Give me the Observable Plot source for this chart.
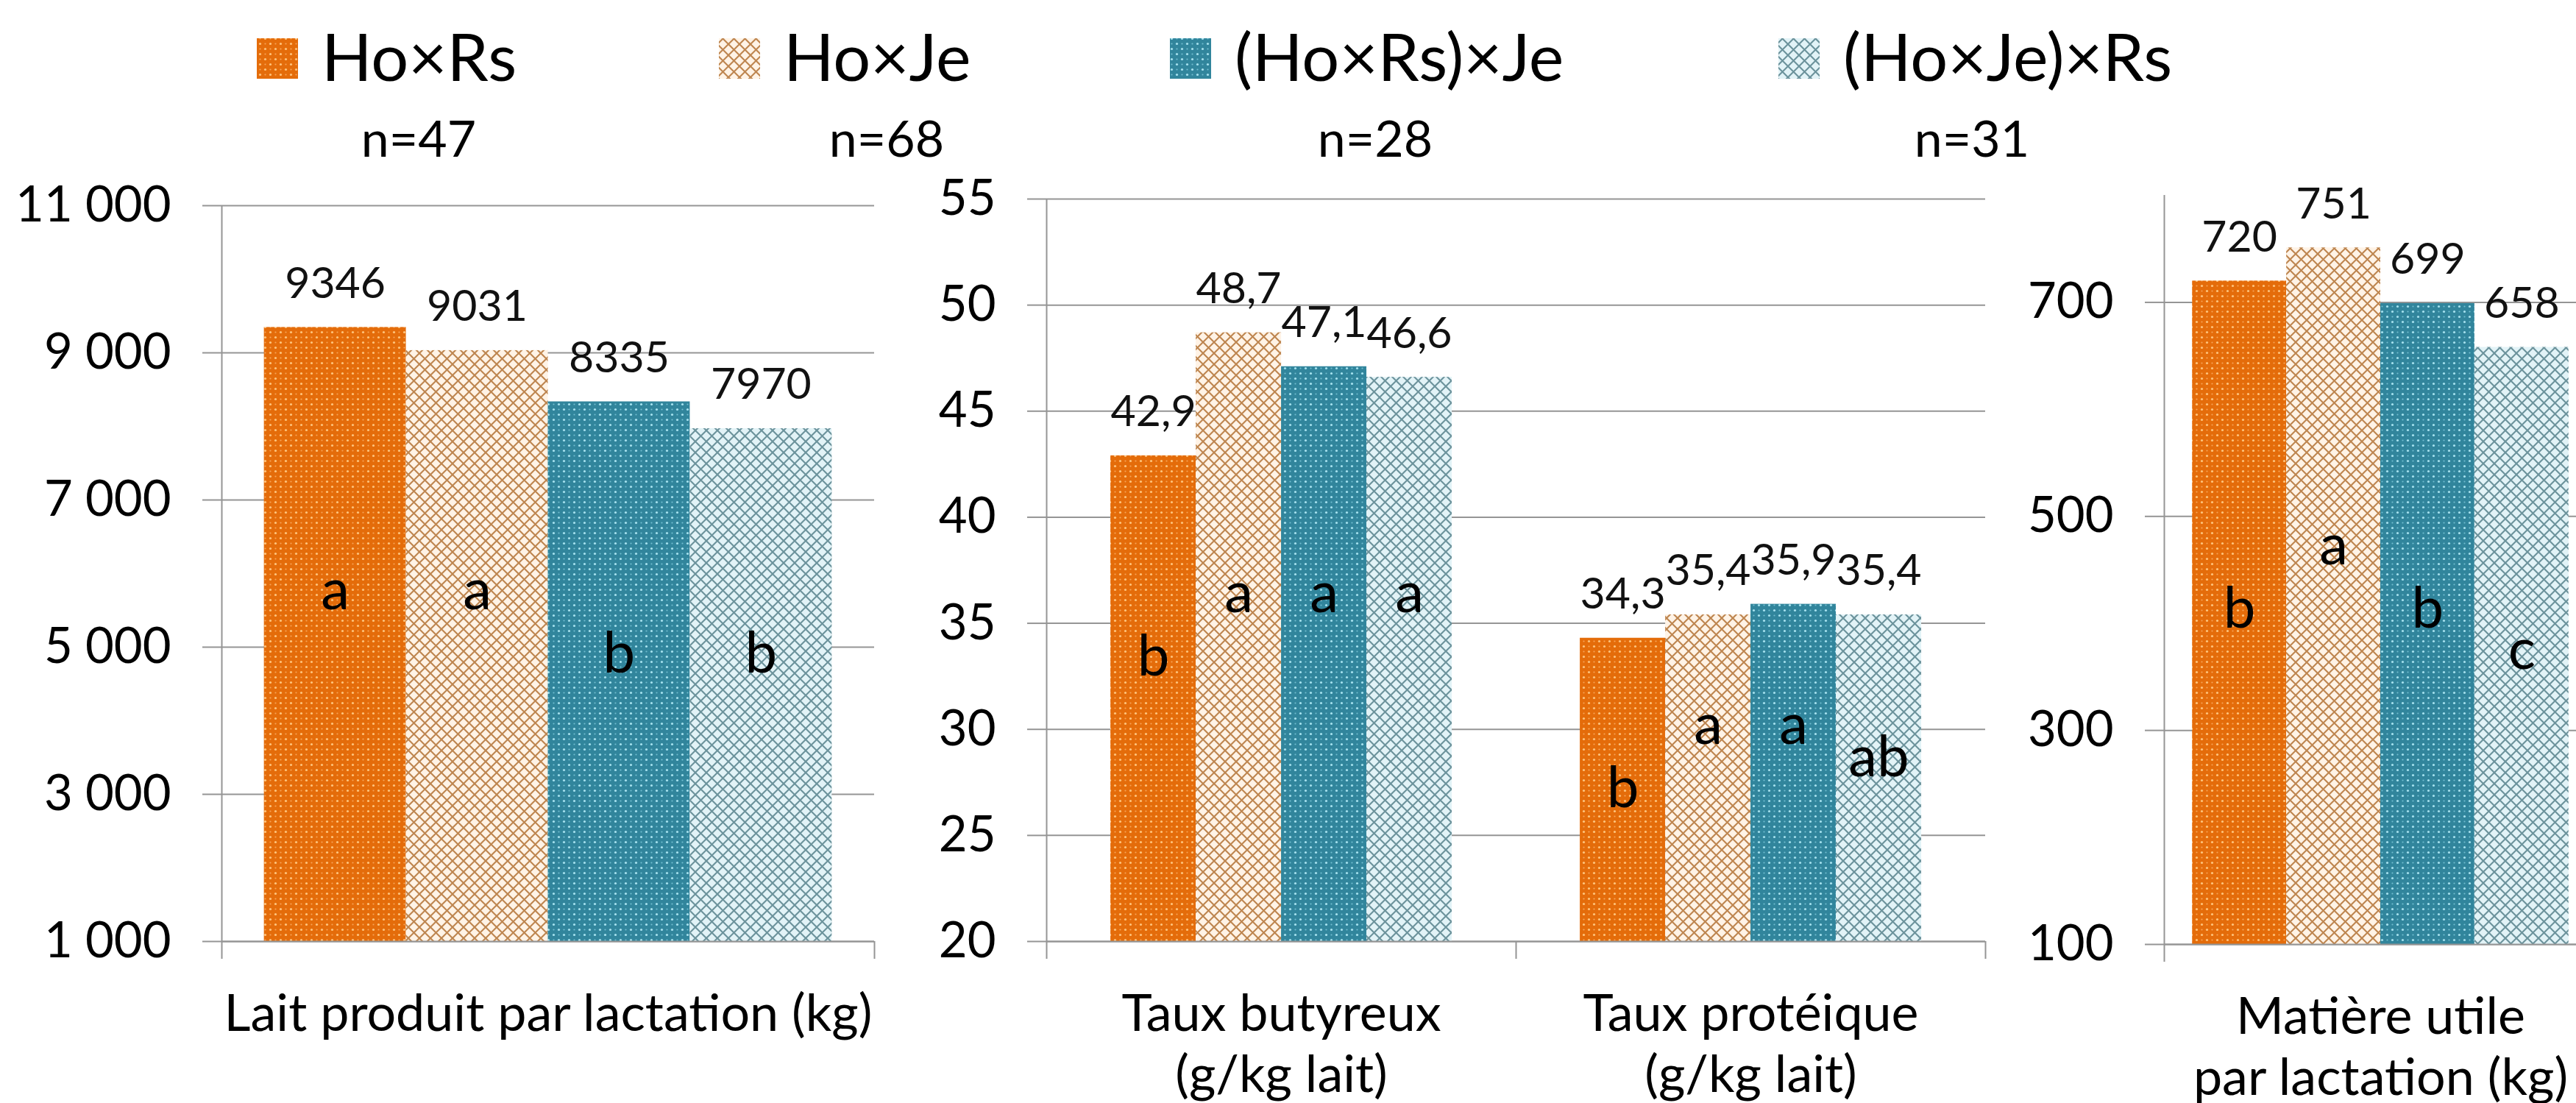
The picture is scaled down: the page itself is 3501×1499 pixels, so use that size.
<!DOCTYPE html>
<html><head><meta charset="utf-8">
<script src="https://cdn.jsdelivr.net/npm/d3@7"></script>
<script src="https://cdn.jsdelivr.net/npm/@observablehq/plot@0.6"></script>
<style>
html,body{margin:0;padding:0;background:#fff;overflow:hidden;width:3501px;height:1499px;}
#root{position:relative;width:3600px;height:1499px;font-family:Lato,sans-serif;}
#root > svg{position:absolute;left:0;top:0;max-width:none;}
</style></head><body><div id="root"></div>
<script>
// ---------- data ----------
const series = ["Ho×Rs", "Ho×Je", "(Ho×Rs)×Je", "(Ho×Je)×Rs"];
const nCounts = [47, 68, 28, 31];

const laitCats = ["Lait produit par lactation (kg)"];
const laitValues = [[9346, 9031, 8335, 7970]];
const laitLetters = [["a", "a", "b", "b"]];
const laitTicks = [1000, 3000, 5000, 7000, 9000, 11000];

const tauxCats = ["Taux butyreux\n(g/kg lait)", "Taux protéique\n(g/kg lait)"];
const tauxValues = [[42.9, 48.7, 47.1, 46.6], [34.3, 35.4, 35.9, 35.4]];
const tauxLetters = [["b", "a", "a", "a"], ["b", "a", "a", "ab"]];
const tauxTicks = [20, 25, 30, 35, 40, 45, 50, 55];

const muCats = ["Matière utile\npar lactation (kg)"];
const muValues = [[720, 751, 699, 658]];
const muLetters = [["b", "a", "b", "c"]];
const muTicks = [100, 300, 500, 700];

// ---------- patterns ----------
const NS = "http://www.w3.org/2000/svg";
const root = document.getElementById("root");
const defsSvg = document.createElementNS(NS, "svg");
defsSvg.setAttribute("width", 0); defsSvg.setAttribute("height", 0);
defsSvg.style.position = "absolute";
defsSvg.innerHTML = `
<defs>
 <pattern id="pDotO" patternUnits="userSpaceOnUse" width="14" height="14">
  <rect width="14" height="14" fill="#E46C0A"/>
  <circle cx="3.5" cy="3.5" r="1.6" fill="#FFC47C"/>
  <circle cx="10.5" cy="10.5" r="1.6" fill="#FFC47C"/>
  <circle cx="10.5" cy="3.5" r="1.1" fill="#F7A255"/>
  <circle cx="3.5" cy="10.5" r="1.1" fill="#F7A255"/>
 </pattern>
 <pattern id="pLatO" patternUnits="userSpaceOnUse" width="15" height="15">
  <rect width="15" height="15" fill="#FFF3E6"/>
  <path d="M0,0L15,15M-2,13L2,17M13,-2L17,2M0,15L15,0M-2,2L2,-2M13,17L17,13" stroke="#BE8650" stroke-width="2.1" fill="none"/>
 </pattern>
 <pattern id="pDotT" patternUnits="userSpaceOnUse" width="14" height="14">
  <rect width="14" height="14" fill="#31859C"/>
  <circle cx="3.5" cy="3.5" r="1.6" fill="#A6E2EF"/>
  <circle cx="10.5" cy="10.5" r="1.6" fill="#A6E2EF"/>
  <circle cx="10.5" cy="3.5" r="1.1" fill="#6FBCCF"/>
  <circle cx="3.5" cy="10.5" r="1.1" fill="#6FBCCF"/>
 </pattern>
 <pattern id="pLatT" patternUnits="userSpaceOnUse" width="15" height="15">
  <rect width="15" height="15" fill="#E2F3F7"/>
  <path d="M0,0L15,15M-2,13L2,17M13,-2L17,2M0,15L15,0M-2,2L2,-2M13,17L17,13" stroke="#6C939C" stroke-width="2.1" fill="none"/>
 </pattern>
</defs>`;
root.appendChild(defsSvg);
const fills = ["url(#pDotO)", "url(#pLatO)", "url(#pDotT)", "url(#pLatT)"];

// ---------- layout constants ----------
const W = 3560, H = 1499;
const GRID = "#959595";
const letterDy = {a: -47, ab: -3, b: 39, c: 95};

function panel({cats, values, letters, ticks, domain, tickFmt, valFmt, left, right, top, bottom}) {
  const n = cats.length;
  const pad = n === 1 ? 0.065 : 0.1365;
  const bw = n === 1 ? 0.2175 : 0.1818;
  const rows = [];
  values.forEach((vals, ci) => vals.forEach((v, si) => rows.push({ci, si, series: series[si], value: v, letter: letters[ci][si]})));
  const ymin = domain[0];
  const anchor = values.map(vals => ymin + 0.56 * (d3.mean(vals) - ymin));
  const cx = d => d.ci + pad + (d.si + 0.5) * bw;
  const letterMarks = Object.keys(letterDy).map(L =>
    Plot.text(rows.filter(d => d.letter === L), {
      x: cx, y: d => anchor[d.ci], text: "letter", dy: letterDy[L],
      fontSize: 78, fill: "#000"
    }));
  return Plot.plot({
    width: W, height: H,
    marginLeft: left, marginRight: W - right, marginTop: top, marginBottom: H - bottom,
    style: {fontFamily: "Lato, sans-serif", fontSize: "60px", color: "#000", background: "transparent", overflow: "visible"},
    x: {type: "linear", domain: [0, n]},
    y: {domain},
    color: {domain: series, range: fills},
    marks: [
      Plot.gridY({ticks, stroke: GRID, strokeOpacity: 1, strokeWidth: 2}),
      Plot.rectY(rows, {
        x1: d => d.ci + pad + d.si * bw,
        x2: d => d.ci + pad + (d.si + 1) * bw,
        y1: () => ymin, y2: "value", fill: "series"
      }),
      Plot.ruleY([ymin], {stroke: GRID, strokeWidth: 2}),
      Plot.ruleX([0], {stroke: GRID, strokeWidth: 2}),
      Plot.axisY({ticks, tickSize: 26, tickPadding: 43, tickFormat: tickFmt, fontSize: 67, stroke: GRID, strokeWidth: 2, strokeOpacity: 1, label: null}),
      Plot.axisX({ticks: d3.range(n + 1), tickSize: 24, tickFormat: () => "", stroke: GRID, strokeWidth: 2, strokeOpacity: 1, label: null}),
      Plot.text(cats, {x: (d, i) => i + 0.5, frameAnchor: "bottom", dy: 63, lineAnchor: "top", lineHeight: 1.18, fontSize: 70, text: d => d, fill: "#000"}),
      Plot.text(rows, {x: cx, y: "value", text: d => valFmt(d.value), dy: -59, fontSize: 59, fill: "#111"}),
      ...letterMarks
    ]
  });
}

const spaceFmt = d => String(d).replace(/\B(?=(\d{3})+(?!\d))/g, " ");
const commaFmt = d => d.toFixed(1).replace(".", ",");

root.appendChild(panel({cats: laitCats, values: laitValues, letters: laitLetters, ticks: laitTicks,
  domain: [1000, 11000], tickFmt: spaceFmt, valFmt: d => String(d), left: 301, right: 1188, top: 279, bottom: 1279}));
root.appendChild(panel({cats: tauxCats, values: tauxValues, letters: tauxLetters, ticks: tauxTicks,
  domain: [20, 55], tickFmt: d => String(d), valFmt: commaFmt, left: 1422, right: 2698, top: 270, bottom: 1279}));
root.appendChild(panel({cats: muCats, values: muValues, letters: muLetters, ticks: muTicks,
  domain: [100, 800], tickFmt: d => String(d), valFmt: d => String(d), left: 2941, right: 3529, top: 265, bottom: 1283}));

// ---------- legend and counts ----------
const legendSvg = d3.create("svg").attr("width", 3501).attr("height", 260)
  .style("position", "absolute").style("left", 0).style("top", 0);
const swatchX = [349, 977, 1590, 2417];
const nX = [569, 1205, 1869, 2680];
series.forEach((s, i) => {
  legendSvg.append("rect").attr("x", swatchX[i]).attr("y", 52).attr("width", 56).attr("height", 55).attr("fill", fills[i]);
  legendSvg.append("text").attr("x", swatchX[i] + 88).attr("y", 110).attr("font-size", 90)
    .attr("font-family", "Lato, sans-serif").attr("fill", "#000").text(s);
  legendSvg.append("text").attr("x", nX[i]).attr("y", 213).attr("font-size", 68).attr("text-anchor", "middle")
    .attr("font-family", "Lato, sans-serif").attr("fill", "#000").text("n=" + nCounts[i]);
});
root.appendChild(legendSvg.node());
</script></body></html>
